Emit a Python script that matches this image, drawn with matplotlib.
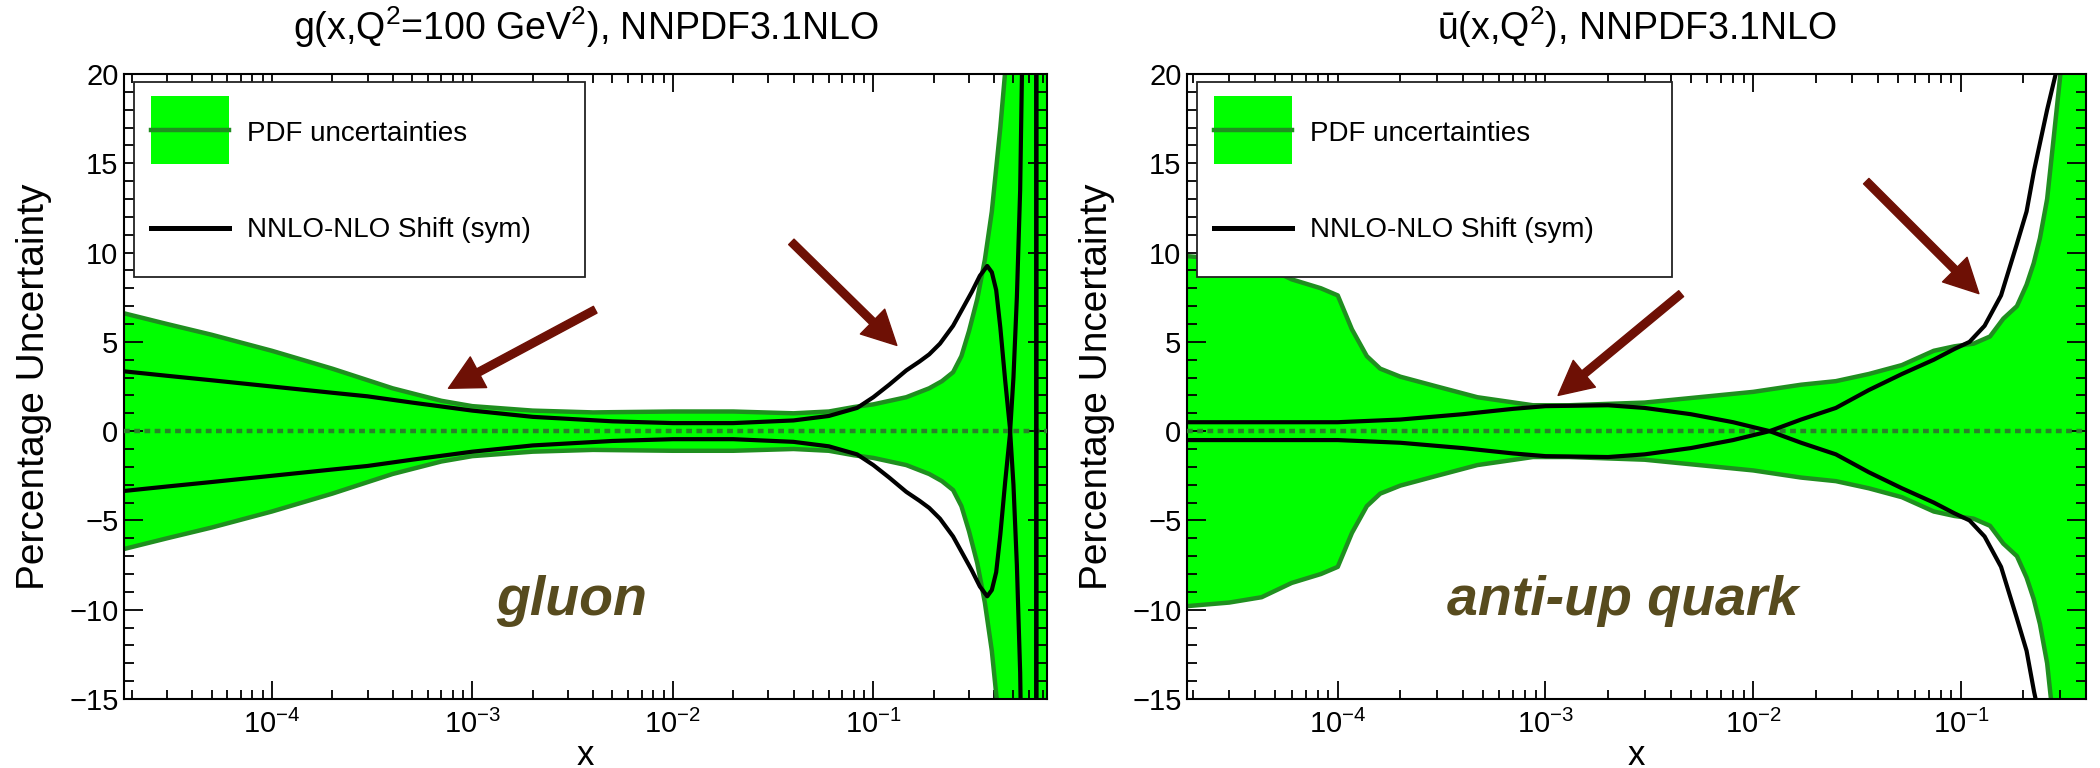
import numpy as np
import matplotlib
matplotlib.use("Agg")
import matplotlib.pyplot as plt
from matplotlib.patches import Rectangle
from matplotlib.ticker import LogLocator, MultipleLocator, NullFormatter

plt.rcParams['font.family'] = ['Liberation Sans', 'DejaVu Sans']
plt.rcParams['mathtext.fontset'] = 'custom'
plt.rcParams['mathtext.rm'] = 'Liberation Sans'
plt.rcParams['mathtext.it'] = 'Liberation Sans:italic'
plt.rcParams['mathtext.bf'] = 'Liberation Sans:bold'

# gluon, Q^2 = 100 GeV^2: PDF uncertainty (half width, %) and NNLO-NLO shift (%)
x_g = [1.83e-5, 3e-5, 5e-5, 1e-4, 2e-4, 4e-4, 7e-4, 1e-3, 2e-3, 4e-3, 1e-2, 2e-2,
       4e-2, 6e-2, 8e-2, 0.1, 0.146, 0.19, 0.22, 0.25, 0.275, 0.30, 0.33, 0.36,
       0.39, 0.43, 0.47, 0.55, 0.735]
band_g = [6.6, 6.0, 5.4, 4.5, 3.5, 2.4, 1.7, 1.4, 1.15, 1.05, 1.1, 1.1,
          1.0, 1.1, 1.35, 1.5, 1.9, 2.4, 2.8, 3.3, 4.2, 5.6, 7.4, 9.6,
          12.3, 17.0, 22.0, 35.0, 80.0]

xs_g = [1.83e-5, 3e-5, 5e-5, 1e-4, 2e-4, 3e-4, 5e-4, 1e-3, 2e-3, 5e-3, 1e-2, 2e-2,
        4e-2, 6e-2, 8.3e-2, 0.1, 0.12, 0.146, 0.17, 0.19, 0.215, 0.25, 0.28, 0.31,
        0.34, 0.37, 0.39, 0.41, 0.43, 0.455, 0.48, 0.50, 0.52, 0.54, 0.56, 0.60,
        0.649, 0.651, 0.70, 0.735]
shift_g = [3.35, 3.1, 2.85, 2.5, 2.15, 1.95, 1.6, 1.15, 0.8, 0.55, 0.45, 0.45,
           0.6, 0.85, 1.3, 1.9, 2.6, 3.4, 3.9, 4.3, 4.9, 5.9, 6.9, 7.8,
           8.7, 9.25, 8.9, 7.9, 5.8, 2.8, 0.2, -3.0, -7.5, -13.5, -25.0, -60.0,
           -300.0, 300.0, 150.0, 100.0]

# anti-up quark
x_u = [1.88e-5, 3e-5, 4.3e-5, 6e-5, 8.3e-5, 1e-4, 1.17e-4, 1.38e-4, 1.6e-4, 2e-4,
       3e-4, 4.7e-4, 8.7e-4, 1.3e-3, 3e-3, 1e-2, 1.7e-2, 2.5e-2, 3.6e-2, 5.2e-2,
       7.4e-2, 9.3e-2, 0.115, 0.138, 0.16, 0.186, 0.207, 0.224, 0.24, 0.26,
       0.28, 0.30, 0.33, 0.40]
band_u = [9.8, 9.6, 9.3, 8.5, 8.0, 7.6, 5.7, 4.2, 3.5, 3.05,
          2.5, 1.9, 1.45, 1.45, 1.6, 2.2, 2.6, 2.8, 3.2, 3.7,
          4.5, 4.75, 4.9, 5.3, 6.3, 7.0, 8.2, 9.4, 10.8, 13.0,
          16.5, 19.8, 25.0, 40.0]

xs_u = [1.88e-5, 1e-4, 2e-4, 4e-4, 7e-4, 1e-3, 2e-3, 3e-3, 5e-3, 8e-3, 1.2e-2,
        1.7e-2, 2.5e-2, 3.6e-2, 5.2e-2, 7.4e-2, 9.3e-2, 0.11, 0.13, 0.156, 0.185,
        0.207, 0.225, 0.26, 0.29, 0.33, 0.40]
shift_u = [0.5, 0.5, 0.65, 0.95, 1.25, 1.4, 1.45, 1.3, 0.95, 0.5, 0.0,
           -0.65, -1.3, -2.3, -3.2, -4.0, -4.6, -5.0, -5.9, -7.6, -10.4,
           -12.3, -14.6, -18.0, -20.3, -26.0, -40.0]

xlims = [(1.83e-5, 0.735), (1.88e-5, 0.40)]
titles = [r'g(x,Q$^{2}$=100 GeV$^{2}$), NNPDF3.1NLO', r'ū(x,Q$^{2}$), NNPDF3.1NLO']
names = ['gluon', 'anti-up quark']
legend_labels = ['PDF uncertainties', 'NNLO-NLO Shift (sym)']
# arrows: (tail, head) in data coordinates
arrows = [[((4.1e-3, 6.8), (7.6e-4, 2.4)), ((3.9e-2, 10.6), (0.131, 4.8))],
          [((4.5e-3, 7.7), (1.15e-3, 2.0)), ((3.5e-2, 14.0), (0.122, 7.7))]]

GREEN = '#00ff00'
DKGREEN = '#1f8f1f'
ARROW = '#6e1005'
LABEL = '#574b1e'

AX_H = 625
fig = plt.figure(figsize=(21, 7.68), dpi=100)
ax1 = fig.add_axes([124/2100, 1 - 699/768, 923/2100, AX_H/768])
ax2 = fig.add_axes([1187/2100, 1 - 699/768, 899/2100, AX_H/768])

data = [(x_g, band_g, xs_g, shift_g), (x_u, band_u, xs_u, shift_u)]
ylab_x = [-0.078, -0.080]
axw = [923, 899]
legw = [451, 475]


def draw_legend(ax, w, box_w):
    # legend laid out in pixel offsets from the upper-left corner of the frame
    fx = lambda p: p / w
    fy = lambda p: 1 - p / AX_H
    kw = dict(transform=ax.transAxes, zorder=10, clip_on=False)
    ax.add_patch(Rectangle((fx(10), fy(203)), fx(box_w), 195 / AX_H, facecolor='white',
                           edgecolor='#222222', lw=1.3, **kw))
    ax.add_patch(Rectangle((fx(27), fy(90)), fx(78), 68 / AX_H, facecolor=GREEN,
                           edgecolor='none', **kw))
    ax.plot([fx(27), fx(105)], [fy(56), fy(56)], color=DKGREEN, lw=3.2, **kw)
    ax.plot([fx(27), fx(105)], [fy(154), fy(154)], color='black', lw=3.6, **kw)
    for lab, yb in zip(legend_labels, [66.7, 162.7]):
        ax.text(fx(123), fy(yb), lab, fontsize=20, va='baseline', ha='left',
                transform=ax.transAxes, zorder=11)


for i, ax in enumerate([ax1, ax2]):
    xb, b, xs, s = data[i]
    b = np.array(b)
    s = np.array(s)
    ax.fill_between(xb, -b, b, color=GREEN, lw=0, zorder=1)
    ax.plot(xb, b, color=DKGREEN, lw=3.2, zorder=2)
    ax.plot(xb, -b, color=DKGREEN, lw=3.2, zorder=2)
    ax.axhline(0, color='#2a802a', lw=3.2, ls=(0, (1.3, 1.0)), dash_capstyle='butt', zorder=3)
    ax.plot(xs, s, color='black', lw=3, zorder=4)
    ax.plot(xs, -s, color='black', lw=3, zorder=4)

    for tail, head in arrows[i]:
        ax.annotate('', xy=head, xytext=tail,
                    arrowprops=dict(arrowstyle='simple,head_length=2.45,head_width=2.5,tail_width=0.55',
                                    color=ARROW, mutation_scale=10, shrinkA=0, shrinkB=0),
                    zorder=6)

    ax.text(0.485, 0.134, names[i], transform=ax.transAxes, ha='center', va='baseline',
            fontsize=40, fontweight='bold', fontstyle='italic', color=LABEL)

    ax.set_xscale('log')
    ax.set_xlim(*xlims[i])
    ax.set_ylim(-15, 20)
    ax.xaxis.set_major_locator(LogLocator(base=10, numticks=20))
    ax.xaxis.set_minor_locator(LogLocator(base=10, subs=np.arange(2, 10), numticks=50))
    ax.xaxis.set_minor_formatter(NullFormatter())
    ax.yaxis.set_major_locator(MultipleLocator(5))
    ax.yaxis.set_minor_locator(MultipleLocator(1))
    ax.tick_params(which='both', direction='in', top=True, right=True, width=1.3,
                   labelsize=21)
    ax.tick_params(axis='x', which='major', length=13, pad=8)
    ax.tick_params(axis='x', which='minor', length=6.5)
    ax.tick_params(axis='y', which='major', length=14, pad=4)
    ax.tick_params(axis='y', which='minor', length=7)
    for sp in ax.spines.values():
        sp.set_linewidth(1.5)

    ax.text(0.5, -66 / AX_H, 'x', transform=ax.transAxes, ha='center', va='baseline',
            fontsize=25)
    ax.set_ylabel('Percentage Uncertainty', fontsize=28)
    ax.yaxis.set_label_coords(ylab_x[i], 0.5)
    ax.set_title(titles[i], fontsize=27, y=1.0544, pad=0)

    draw_legend(ax, axw[i], legw[i])

fig.savefig('out.png', dpi=100)
